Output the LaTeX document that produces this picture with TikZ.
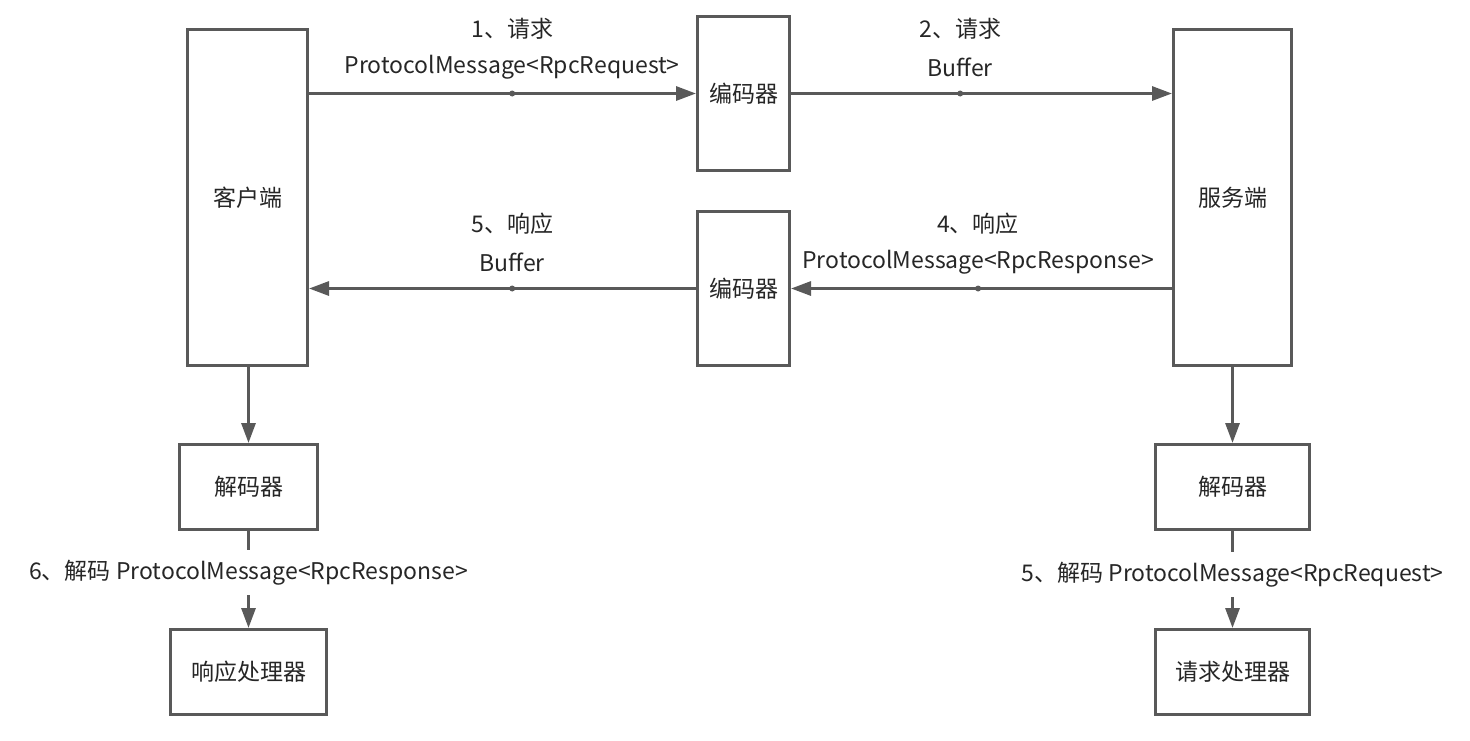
\documentclass[tikz,border=0pt]{standalone}
\usepackage{fontspec}
\setmainfont{Noto Sans CJK SC}
\usetikzlibrary{arrows.meta}
\definecolor{edge}{HTML}{595959}
\begin{document}
\begin{tikzpicture}[x=0.5pt,y=-0.5pt,
  box/.style={draw=edge,line width=1.5pt,fill=white,inner sep=0,font=\fontsize{11.5}{13}\selectfont,text=black!85},
  link/.style={draw=edge,line width=1.5pt,-{Triangle[length=10pt,width=7pt]}},
  dot/.style={circle,fill=edge,inner sep=0,minimum size=3pt},
  lbl/.style={font=\fontsize{11.5}{13}\selectfont,text=black!85,inner sep=1pt},
  cut/.style={lbl,fill=white,inner ysep=5pt}]
\useasboundingbox (0,0) rectangle (1470,740);
% main boxes
\node[box,minimum width=60pt,minimum height=168pt](client)at(247.5,197.5){客户端};
\node[box,minimum width=59pt,minimum height=168pt](server)at(1232.5,197.5){服务端};
\node[box,minimum width=46pt,minimum height=77pt](enc1)at(743.5,93.5){编码器};
\node[box,minimum width=46pt,minimum height=77pt](enc2)at(743.5,288.5){编码器};
\node[box,minimum width=69pt,minimum height=42.5pt](decl)at(248.5,487){解码器};
\node[box,minimum width=78pt,minimum height=42.5pt](resp)at(248.5,672){响应处理器};
\node[box,minimum width=77pt,minimum height=42.5pt](decr)at(1232.5,487){解码器};
\node[box,minimum width=77pt,minimum height=42.5pt](req)at(1232.5,672){请求处理器};
% request / response flow
\draw[link](client.east|-enc1.west)--node[dot,pos=.525]{}node[lbl,pos=.525,yshift=13pt]{ProtocolMessage<RpcRequest>}node[lbl,pos=.525,yshift=32.5pt]{1、请求}(enc1.west);
\draw[link](enc1.east)--node[dot,pos=.444]{}node[lbl,pos=.444,yshift=13pt]{Buffer}node[lbl,pos=.444,yshift=32.5pt]{2、请求}(server.west|-enc1.east);
\draw[link](server.west|-enc2.east)--node[dot,pos=.509]{}node[lbl,pos=.509,yshift=13pt]{ProtocolMessage<RpcResponse>}node[lbl,pos=.509,yshift=32.5pt]{4、响应}(enc2.east);
\draw[link](enc2.west)--node[dot,pos=.475]{}node[lbl,pos=.475,yshift=13pt]{Buffer}node[lbl,pos=.475,yshift=32.5pt]{5、响应}(client.east|-enc2.west);
% decoding
\draw[link](client.south-|decl.north)--(decl.north);
\draw[link](decl.south)--node[cut,pos=.43]{6、解码 ProtocolMessage<RpcResponse>}(resp.north);
\draw[link](server.south-|decr.north)--(decr.north);
\draw[link](decr.south)--node[cut,pos=.45]{5、解码 ProtocolMessage<RpcRequest>}(req.north);
\end{tikzpicture}
\end{document}
